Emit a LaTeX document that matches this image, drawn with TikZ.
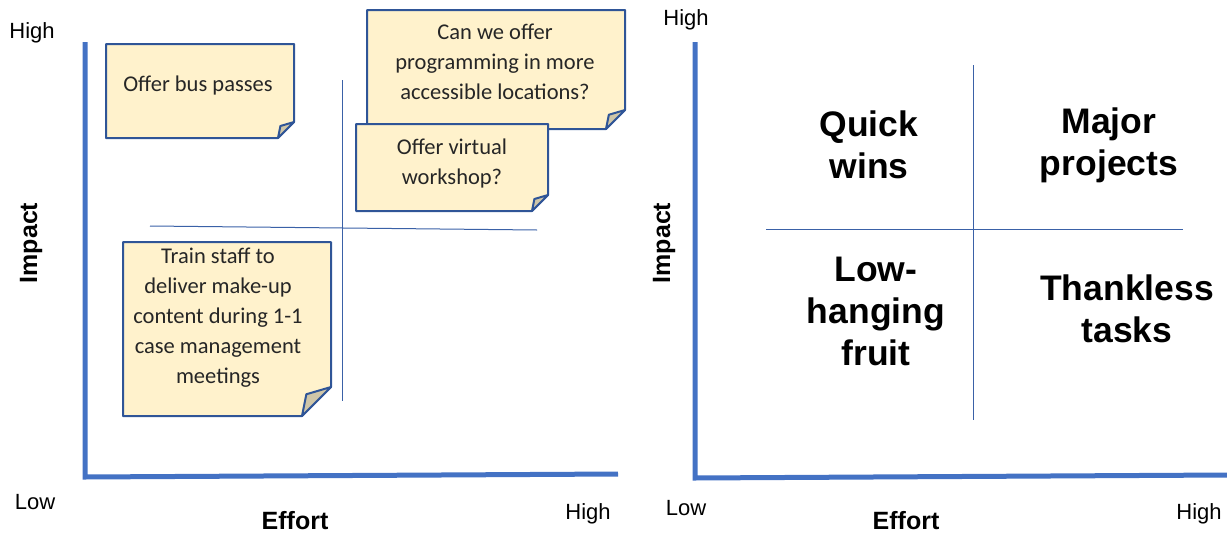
\documentclass[tikz,border=0pt]{standalone}
\usepackage{fontspec}
\setmainfont{Liberation Sans}
\newfontfamily\notefont{Carlito}
\definecolor{axisblue}{HTML}{4472C4}
\definecolor{noteedge}{HTML}{2F5597}
\definecolor{notefill}{HTML}{FFF2CC}
\definecolor{foldfill}{HTML}{CFC6A8}
\definecolor{notetext}{HTML}{262626}
\tikzset{
  axisline/.style={draw=axisblue, line width=5pt},
  divider/.style={draw=axisblue!85!black, line width=1pt},
  notebox/.style={draw=noteedge, fill=notefill, line width=2pt, line join=round},
  notefold/.style={draw=noteedge, fill=foldfill, line width=2pt, line join=round},
  notelabel/.style={font=\notefont\fontsize{22.5}{30}\selectfont, text=notetext, align=center, inner sep=0pt},
  quadlabel/.style={font=\bfseries\fontsize{35.5}{42}\selectfont, align=center, inner sep=0pt},
  scalelabel/.style={font=\fontsize{22}{26}\selectfont, inner sep=0pt},
  axistitle/.style={font=\bfseries\fontsize{25}{30}\selectfont, inner sep=0pt}
}
% sticky note with a folded bottom-right corner: left, top, right, bottom, fold size
\newcommand{\stickynote}[5]{%
  \path[notebox] (#1,#2) -- (#3,#2) -- (#3,#4-#5) -- (#3-#5,#4) -- (#1,#4) -- cycle;
  \path[notefold] (#3,#4-#5) -- (#3-0.85*#5,#4-0.75*#5) -- (#3-#5,#4) -- cycle;
}
\begin{document}
\begin{tikzpicture}[x=1pt,y=-1pt]
\useasboundingbox (0,0) rectangle (1227,533);

% ---------- left chart: ideas placed on the grid ----------
\coordinate (Ltop) at (85,42);
\coordinate (Lorigin) at (85,477);
\coordinate (Lright) at (618,474);
\draw[axisline, line join=miter] (Ltop) -- (Lorigin) -- (Lright);

\coordinate (Lv1) at (342,80);
\coordinate (Lv2) at (342,401);
\coordinate (Lh1) at (150,226);
\coordinate (Lh2) at (537,230);
\draw[divider] (Lv1) -- (Lv2);
\draw[divider] (Lh1) -- (Lh2);

\node[scalelabel] (LhighY) at (32,33) {High};
\node[scalelabel] (LlowY) at (35,502) {Low};
\node[scalelabel] (LhighX) at (588,514) {High};
\node[axistitle] (Leffort) at (295,521) {Effort};
\node[axistitle, rotate=90] (Limpact) at (31,243) {Impact};

\stickynote{106}{44}{294}{138}{16}
\node[notelabel] (busnote) at (198,85) {Offer bus passes};

\stickynote{367}{10}{625}{129}{19}
\node[notelabel] (locnote) at (495,62) {Can we offer\\programming in more\\accessible locations?};

\stickynote{356}{124}{548}{211}{16}
\node[notelabel] (virtnote) at (452,163) {Offer virtual\\workshop?};

\stickynote{123}{242}{331}{416}{29}
\node[notelabel] (staffnote) at (218,318) {Train staff to\\deliver make-up\\content during 1-1\\case management\\meetings};

% ---------- right chart: quadrant names ----------
\coordinate (Rtop) at (695,42);
\coordinate (Rorigin) at (695,478);
\coordinate (Rright) at (1227,475);
\draw[axisline, line join=miter] (Rtop) -- (Rorigin) -- (Rright);

\coordinate (Rv1) at (973,65);
\coordinate (Rv2) at (973,420);
\coordinate (Rh1) at (766,229);
\coordinate (Rh2) at (1183,229);
\draw[divider] (Rv1) -- (Rv2);
\draw[divider] (Rh1) -- (Rh2);

\node[scalelabel] (RhighY) at (686,20) {High};
\node[scalelabel] (RlowY) at (686,508) {Low};
\node[scalelabel] (RhighX) at (1199,514) {High};
\node[axistitle] (Reffort) at (906,521) {Effort};
\node[axistitle, rotate=90] (Rimpact) at (664,243) {Impact};

\node[quadlabel] (quick) at (869,145) {Quick\\wins};
\node[quadlabel] (major) at (1109,145) {Major\\projects};
\node[quadlabel] (lowhang) at (876,311) {Low-\\hanging\\fruit};
\node[quadlabel] (thankless) at (1127,309) {Thankless\\tasks};
\end{tikzpicture}
\end{document}
